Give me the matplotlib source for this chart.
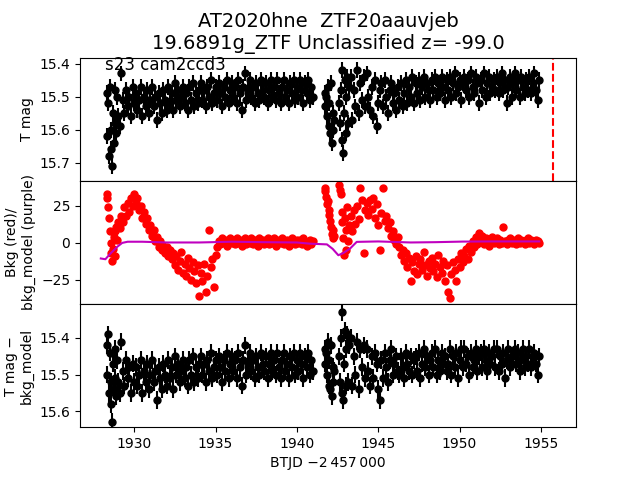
"""Courbe de lumière TESS : magnitude, fond de ciel, magnitude corrigée."""

import matplotlib
matplotlib.use("Agg")
import matplotlib.pyplot as plt
import numpy as np

TITLE = "AT2020hne  ZTF20aauvjeb\n19.6891g_ZTF Unclassified z= -99.0"
SECTOR_LABEL = "s23 cam2ccd3"
T_DISCOVERY = 1955.74
TMAG_ERR = 0.024

# --- orbite 1 ---
t_s1 = [
    1928.30, 1928.35, 1928.40, 1928.45, 1928.50, 1928.55, 1928.60, 1928.65,
    1928.70, 1928.75, 1928.80, 1928.85, 1928.90, 1928.95, 1929.00,
    1929.1, 1929.2, 1929.3, 1929.4, 1929.5, 1929.6, 1929.7, 1929.8, 1929.9, 1930.0,
    1930.1, 1930.2, 1930.3, 1930.4, 1930.5, 1930.6, 1930.7, 1930.8, 1930.9, 1931.0,
    1931.1, 1931.2, 1931.3, 1931.4, 1931.5, 1931.6, 1931.7, 1931.8, 1931.9, 1932.0,
    1932.1, 1932.2, 1932.3, 1932.4, 1932.5, 1932.6, 1932.7, 1932.8, 1932.9, 1933.0,
    1933.1, 1933.2, 1933.3, 1933.4, 1933.5, 1933.6, 1933.7, 1933.8, 1933.9, 1934.0,
    1934.1, 1934.2, 1934.3, 1934.4, 1934.5, 1934.6, 1934.7, 1934.8, 1934.9, 1935.0,
    1935.1, 1935.2, 1935.3, 1935.4, 1935.5, 1935.6, 1935.7, 1935.8, 1935.9, 1936.0,
    1936.1, 1936.2, 1936.3, 1936.4, 1936.5, 1936.6, 1936.7, 1936.8, 1936.9, 1937.0,
    1937.1, 1937.2, 1937.3, 1937.4, 1937.5, 1937.6, 1937.7, 1937.8, 1937.9, 1938.0,
    1938.1, 1938.2, 1938.3, 1938.4, 1938.5, 1938.6, 1938.7, 1938.8, 1938.9, 1939.0,
    1939.1, 1939.2, 1939.3, 1939.4, 1939.5, 1939.6, 1939.7, 1939.8, 1939.9, 1940.0,
    1940.1, 1940.2, 1940.3, 1940.4, 1940.5, 1940.6, 1940.7, 1940.8, 1940.9, 1941.0,
]
tmag_s1 = [
    15.49, 15.62, 15.52, 15.68, 15.47, 15.60, 15.66, 15.71,
    15.55, 15.64, 15.48, 15.58, 15.61, 15.50, 15.56,
    15.59, 15.43, 15.51, 15.55, 15.48, 15.53, 15.50, 15.56, 15.47, 15.52,
    15.49, 15.54, 15.51, 15.47, 15.56, 15.50, 15.53, 15.48, 15.55, 15.51,
    15.47, 15.53, 15.50, 15.57, 15.49, 15.52, 15.55, 15.48, 15.51, 15.54,
    15.47, 15.52, 15.49, 15.54, 15.46, 15.51, 15.48, 15.53, 15.50, 15.47,
    15.52, 15.49, 15.54, 15.47, 15.51, 15.46, 15.53, 15.49, 15.52, 15.48,
    15.46, 15.51, 15.48, 15.53, 15.47, 15.50, 15.45, 15.52, 15.49, 15.47,
    15.51, 15.46, 15.49, 15.53, 15.47, 15.50, 15.45, 15.52, 15.48, 15.46,
    15.50, 15.47, 15.52, 15.45, 15.49, 15.54, 15.47, 15.43, 15.51, 15.48,
    15.45, 15.50, 15.47, 15.52, 15.46, 15.49, 15.51, 15.45, 15.48, 15.50,
    15.46, 15.52, 15.48, 15.45, 15.50, 15.47, 15.51, 15.45, 15.49, 15.52,
    15.47, 15.45, 15.50, 15.48, 15.52, 15.46, 15.49, 15.45, 15.51, 15.47,
    15.50, 15.45, 15.48, 15.52, 15.46, 15.49, 15.45, 15.51, 15.47, 15.50,
]
bkg_s1 = [
    33, 30, 24, 17, 8, 0, -7, -12,
    -4, 4, -9, 8, 11, 2, 14,
    10, 18, 14, 24, 18, 27, 21, 30, 25, 33,
    27, 30, 22, 25, 17, 21, 13, 17, 9, 12,
    5, 9, 1, 4, -3, 1, -5, -2, -7, -3,
    -9, -5, -11, -7, -15, -9, -18, -12, -6, -20,
    -14, -22, -10, -17, -25, -13, -19, -27, -15, -36,
    -20, -26, -14, -33, -22, 9, -16, -11, -30, -8,
    -3, 1, -1, 3, 0, 2, -2, 1, 3, 0,
    2, -1, 3, 0, 2, -2, 1, 3, -1, 2,
    0, 3, -1, 2, 1, -2, 3, 0, 2, -1,
    1, 3, -1, 2, 0, 3, -2, 1, 2, 0,
    3, -1, 1, 2, -2, 0, 3, 1, -1, 2,
    0, 2, -1, 3, 1, -2, 0, 2, -1, 1,
]
corr_s1 = [
    15.42, 15.50, 15.39, 15.55, 15.44, 15.52, 15.58, 15.63,
    15.47, 15.54, 15.43, 15.51, 15.56, 15.46, 15.52,
    15.55, 15.41, 15.49, 15.53, 15.46, 15.51, 15.48, 15.55, 15.47, 15.52,
    15.48, 15.53, 15.50, 15.46, 15.55, 15.49, 15.52, 15.47, 15.54, 15.50,
    15.46, 15.52, 15.49, 15.57, 15.48, 15.51, 15.54, 15.47, 15.50, 15.53,
    15.46, 15.51, 15.48, 15.54, 15.45, 15.50, 15.47, 15.52, 15.49, 15.46,
    15.51, 15.48, 15.53, 15.46, 15.50, 15.45, 15.52, 15.48, 15.51, 15.47,
    15.45, 15.50, 15.47, 15.52, 15.46, 15.49, 15.44, 15.51, 15.48, 15.46,
    15.50, 15.45, 15.48, 15.52, 15.46, 15.49, 15.44, 15.51, 15.47, 15.45,
    15.49, 15.46, 15.51, 15.44, 15.48, 15.53, 15.46, 15.42, 15.50, 15.47,
    15.44, 15.49, 15.46, 15.51, 15.45, 15.48, 15.50, 15.44, 15.47, 15.49,
    15.45, 15.51, 15.47, 15.44, 15.49, 15.46, 15.50, 15.44, 15.48, 15.51,
    15.46, 15.44, 15.49, 15.47, 15.51, 15.45, 15.48, 15.44, 15.50, 15.46,
    15.49, 15.44, 15.47, 15.51, 15.45, 15.48, 15.44, 15.50, 15.46, 15.49,
]

# --- orbite 2 ---
t_s2 = [
    1941.70, 1941.75, 1941.80, 1941.85, 1941.90, 1941.95, 1942.00, 1942.05,
    1942.10, 1942.15, 1942.20, 1942.25, 1942.30,
    1942.60, 1942.65, 1942.70, 1942.75, 1942.80, 1942.85, 1942.90, 1942.95,
    1943.00, 1943.05, 1943.10, 1943.15, 1943.20,
    1943.3, 1943.4, 1943.5, 1943.6, 1943.7, 1943.8, 1943.9, 1944.0, 1944.1, 1944.2,
    1944.3, 1944.4, 1944.5, 1944.6, 1944.7, 1944.8, 1944.9, 1945.0, 1945.1, 1945.2,
    1945.3, 1945.4, 1945.5, 1945.6, 1945.7, 1945.8, 1945.9, 1946.0, 1946.1, 1946.2,
    1946.3, 1946.4, 1946.5, 1946.6, 1946.7, 1946.8, 1946.9, 1947.0, 1947.1, 1947.2,
    1947.3, 1947.4, 1947.5, 1947.6, 1947.7, 1947.8, 1947.9, 1948.0, 1948.1, 1948.2,
    1948.3, 1948.4, 1948.5, 1948.6, 1948.7, 1948.8, 1948.9, 1949.0, 1949.1, 1949.2,
    1949.3, 1949.4, 1949.5, 1949.6, 1949.7, 1949.8, 1949.9, 1950.0, 1950.1, 1950.2,
    1950.3, 1950.4, 1950.5, 1950.6, 1950.7, 1950.8, 1950.9, 1951.0, 1951.1, 1951.2,
    1951.3, 1951.4, 1951.5, 1951.6, 1951.7, 1951.8, 1951.9, 1952.0, 1952.1, 1952.2,
    1952.3, 1952.4, 1952.5, 1952.6, 1952.7, 1952.8, 1952.9, 1953.0, 1953.1, 1953.2,
    1953.3, 1953.4, 1953.5, 1953.6, 1953.7, 1953.8, 1953.9, 1954.0, 1954.1, 1954.2,
    1954.3, 1954.4, 1954.5, 1954.6, 1954.7, 1954.8, 1954.9,
]
tmag_s2 = [
    15.49, 15.53, 15.50, 15.56, 15.47, 15.59, 15.52, 15.61,
    15.46, 15.64, 15.55, 15.60, 15.57,
    15.52, 15.58, 15.48, 15.63, 15.42, 15.67, 15.55, 15.45,
    15.61, 15.50, 15.44, 15.58, 15.47,
    15.44, 15.57, 15.48, 15.53, 15.42, 15.55, 15.46, 15.51, 15.44, 15.53,
    15.43, 15.50, 15.54, 15.47, 15.56, 15.45, 15.59, 15.52, 15.48, 15.46,
    15.53, 15.45, 15.50, 15.55, 15.48, 15.46, 15.52, 15.49, 15.54, 15.47,
    15.51, 15.46, 15.53, 15.49, 15.45, 15.52, 15.47, 15.50, 15.44, 15.52,
    15.46, 15.49, 15.45, 15.51, 15.47, 15.44, 15.50, 15.46, 15.48, 15.51,
    15.45, 15.48, 15.44, 15.50, 15.46, 15.49, 15.44, 15.47, 15.51, 15.45,
    15.48, 15.44, 15.50, 15.46, 15.43, 15.49, 15.47, 15.45, 15.51, 15.46,
    15.44, 15.48, 15.45, 15.50, 15.43, 15.47, 15.49, 15.44, 15.46, 15.52,
    15.45, 15.48, 15.43, 15.50, 15.46, 15.44, 15.49, 15.47, 15.45, 15.48,
    15.44, 15.49, 15.46, 15.43, 15.48, 15.45, 15.52, 15.47, 15.44, 15.50,
    15.46, 15.43, 15.48, 15.45, 15.50, 15.44, 15.47, 15.49, 15.45, 15.48,
    15.44, 15.49, 15.46, 15.43, 15.48, 15.51, 15.45,
]
bkg_s2 = [
    37, 35, 31, 26, 28, 22, 19, 15,
    11, 6, 9, 3, 5,
    39, 36, 33, 21, 14, 3, -8, 17,
    -5, 9, 24, 1, 12,
    18, 8, 22, 13, 25, 16, 37, 29, -7, 22,
    27, 19, 29, 23, 30, 17, 26, 12, -5, 20,
    37, 15, 18, 10, 14, 5, 8, 2, -1, 4,
    -3, -8, -5, -12, -7, -16, -10, -26, -13, -19,
    -9, -21, -14, -11, -18, -6, -15, -22, -12, -17,
    -10, -19, -14, -23, -8, -16, -20, -12, -26, -15,
    -33, -37, -21, -13, -18, -26, -11, -16, -7, -13,
    -9, -4, -11, -2, -6, 1, -3, 4, -1, 7,
    2, 5, -1, 3, 1, -2, 2, 4, 0, 1,
    3, -1, 2, 0, 11, 1, -1, 2, 3, 0,
    2, 1, -1, 3, 0, 2, 1, -1, 2, 3,
    0, 2, 1, -1, 2, 1, 0,
]
corr_s2 = [
    15.43, 15.47, 15.44, 15.50, 15.41, 15.53, 15.46, 15.54,
    15.42, 15.56, 15.48, 15.52, 15.49,
    15.45, 15.52, 15.40, 15.55, 15.33, 15.57, 15.47, 15.38,
    15.53, 15.43, 15.39, 15.52, 15.42,
    15.40, 15.53, 15.45, 15.50, 15.41, 15.54, 15.43, 15.48, 15.42, 15.51,
    15.43, 15.49, 15.53, 15.45, 15.51, 15.44, 15.47, 15.54, 15.57, 15.46,
    15.51, 15.44, 15.48, 15.52, 15.46, 15.43, 15.50, 15.47, 15.45, 15.49,
    15.50, 15.45, 15.48, 15.51, 15.44, 15.47, 15.49, 15.45, 15.50, 15.46,
    15.45, 15.49, 15.44, 15.51, 15.47, 15.43, 15.48, 15.45, 15.50, 15.46,
    15.44, 15.48, 15.43, 15.50, 15.46, 15.49, 15.44, 15.47, 15.45, 15.49,
    15.47, 15.43, 15.50, 15.45, 15.48, 15.44, 15.51, 15.46, 15.43, 15.48,
    15.43, 15.47, 15.45, 15.50, 15.44, 15.48, 15.46, 15.43, 15.49, 15.45,
    15.44, 15.48, 15.43, 15.46, 15.49, 15.44, 15.47, 15.45, 15.43, 15.48,
    15.43, 15.49, 15.45, 15.47, 15.44, 15.51, 15.46, 15.43, 15.48, 15.45,
    15.45, 15.43, 15.47, 15.44, 15.49, 15.46, 15.43, 15.48, 15.45, 15.47,
    15.43, 15.48, 15.45, 15.44, 15.47, 15.50, 15.45,
]

# modèle de fond (ligne violette)
t_model = [1927.95, 1928.23, 1928.54, 1928.95, 1929.26, 1929.6, 1930.5, 1932.0,
           1934.0, 1936.0, 1938.0, 1940.0, 1940.8, 1941.85, 1942.2, 1942.55,
           1942.86, 1943.27, 1943.68, 1945.0, 1947.0, 1948.5, 1950.2, 1952.0, 1954.9]
bkg_model = [-10.5, -11, -7.2, -2.7, 0, 0.8, 0.8, 0.3,
             0.3, 0.8, 0.5, 0.3, -0.5, -1, -4, -8.3,
             -6.8, -3.8, 0.7, 1.0, 0.3, 0.5, 0.9, 1.0, 1.0]

t = np.array(t_s1 + t_s2)
tmag = np.array(tmag_s1 + tmag_s2)
bkg = np.array(bkg_s1 + bkg_s2)
corr = np.array(corr_s1 + corr_s2)

fig, (ax1, ax2, ax3) = plt.subplots(3, 1, sharex=True, figsize=(6.4, 4.8), dpi=100)
fig.subplots_adjust(hspace=0)

ax1.errorbar(t, tmag, yerr=TMAG_ERR, fmt="o", color="k", ms=5)
ax1.axvline(T_DISCOVERY, color="r", ls="--")
ax1.set_ylim(15.755, 15.382)
ax1.set_ylabel("T mag")
ax1.set_title(TITLE, fontsize=14)
ax1.text(0.05, 0.9, SECTOR_LABEL, transform=ax1.transAxes, fontsize=12)

ax2.plot(t, bkg, "o", color="r", ms=5)
ax2.plot(t_model, bkg_model, "-", color="m", lw=1.5)
ax2.set_ylim(-41.2, 41.9)
ax2.set_ylabel("Bkg (red)/\nbkg_model (purple)")

ax3.errorbar(t, corr, yerr=TMAG_ERR, fmt="o", color="k", ms=5)
ax3.set_ylim(15.644, 15.307)
ax3.set_ylabel("T mag \u2212\nbkg_model")
ax3.set_xlim(1926.67, 1957.16)
ax3.set_xlabel("BTJD \u22122\u2009457\u2009000")

fig.savefig("out.png", dpi=100)
